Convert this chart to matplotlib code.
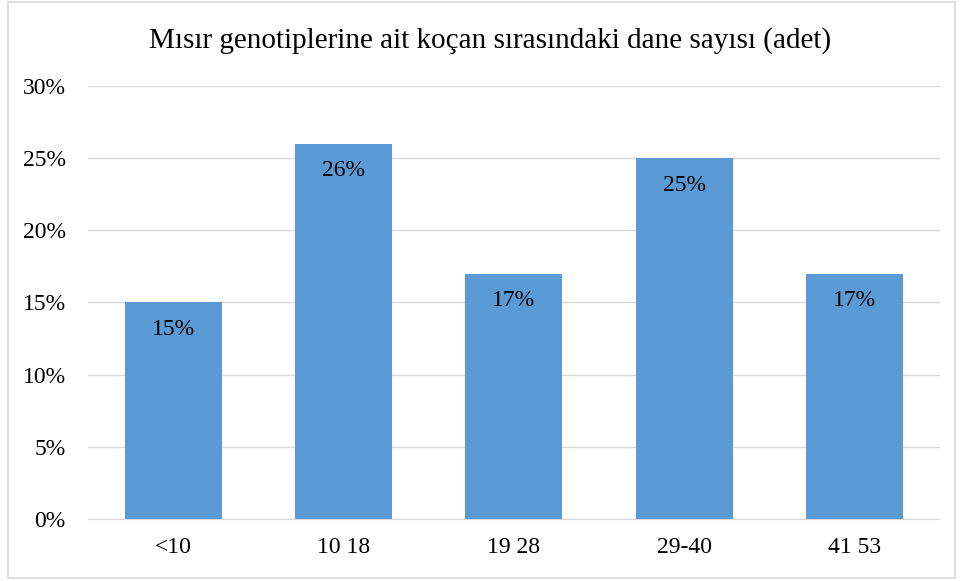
import matplotlib.pyplot as plt
from matplotlib.patches import Rectangle

plt.rcParams['font.family'] = ['Liberation Serif', 'DejaVu Serif']

categories = ['<10', '10 18', '19 28', '29-40', '41 53']
values = [15, 26, 17, 25, 17]
yticks = [0, 5, 10, 15, 20, 25, 30]

fig = plt.figure(figsize=(9.61, 5.81), dpi=100)
ax = fig.add_axes([0.0916, 0.1067, 0.8864, 0.7453])

# outer chart border
fig.patches.append(Rectangle((0.008, 0.006), 0.986, 0.99, transform=fig.transFigure,
                             fill=False, edgecolor='#D9D9D9', linewidth=1.2))

x = range(len(categories))
bars = ax.bar(x, values, width=0.57, color='#5B9BD5', zorder=3)
for xi, v in zip(x, values):
    ax.annotate(f'{v}%', (xi, v), xytext=(0, -12), textcoords='offset points',
                ha='center', va='top', fontsize=17, color='#000000', zorder=4)

ax.set_xlim(-0.5, len(categories) - 0.5)
ax.set_ylim(0, 30)
ax.set_yticks(yticks)
ax.set_yticklabels([f'{t}%' for t in yticks], fontsize=17)
ax.set_xticks(list(x))
ax.set_xticklabels(categories, fontsize=17)
ax.tick_params(length=0)
ax.tick_params(axis='x', pad=13)
ax.tick_params(axis='y', pad=16)
ax.grid(axis='y', color='#D9D9D9', linewidth=1, zorder=0)
for s in ['top', 'right', 'left']:
    ax.spines[s].set_visible(False)
ax.spines['bottom'].set_color('#D9D9D9')

fig.suptitle('Mısır genotiplerine ait koçan sırasındaki dane sayısı (adet)',
             fontsize=21, x=0.51, y=0.953)

fig.savefig('out.png', dpi=100)
